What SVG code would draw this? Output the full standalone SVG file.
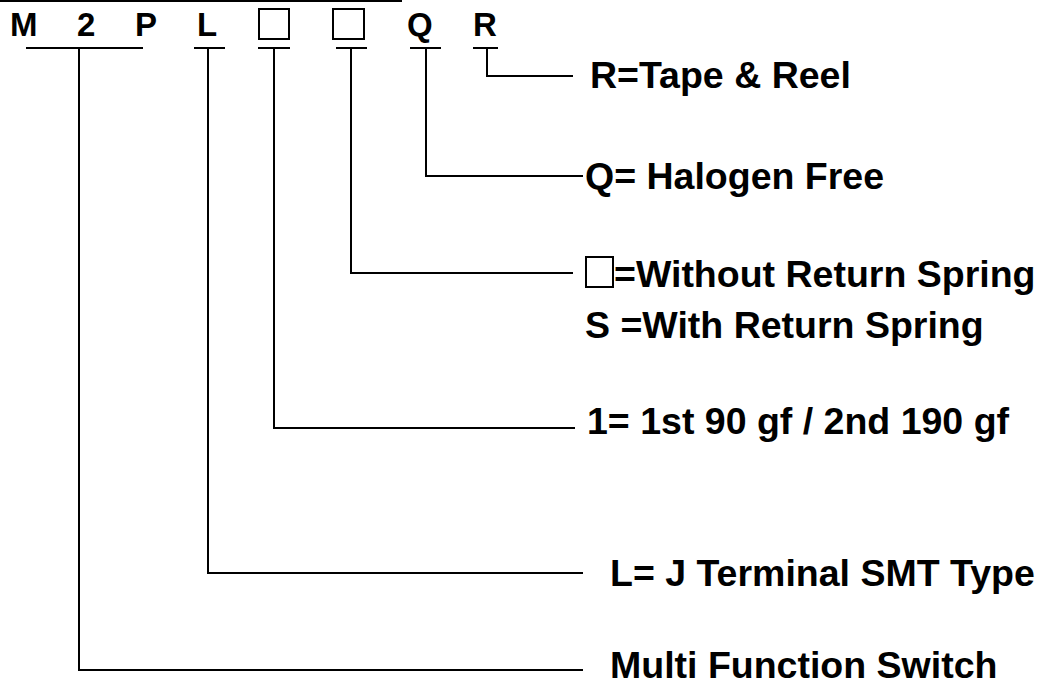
<svg xmlns="http://www.w3.org/2000/svg" width="1044" height="687" viewBox="0 0 1044 687">
<style>
.code{font-family:"Liberation Sans",Arial,sans-serif;font-weight:bold;font-size:33px;fill:#000}
.lbl{font-family:"Liberation Sans",Arial,sans-serif;font-weight:bold;font-size:37.5px;fill:#000}
.ln{stroke:#000;stroke-width:2;fill:none}
.box{stroke:#000;stroke-width:2;fill:none}
</style>
<rect width="1044" height="687" fill="#fff"/>
<g id="code">
<line class="ln" x1="0" y1="1" x2="402" y2="1"/>
<text class="code" x="10" y="36">M</text>
<text class="code" x="77" y="36">2</text>
<text class="code" x="135" y="36">P</text>
<text class="code" x="197" y="36">L</text>
<rect class="box" x="259" y="9" width="30" height="30"/>
<rect class="box" x="333" y="9" width="31" height="30"/>
<text class="code" x="407" y="36">Q</text>
<text class="code" x="473" y="36">R</text>
</g>
<g id="connectors">
<path class="ln" d="M26 48H143M79 48V670H583"/>
<path class="ln" d="M194 48H225M208 48V573H583"/>
<path class="ln" d="M258 48H290M274 48V428H575"/>
<path class="ln" d="M336 48H367M351 48V273H573"/>
<path class="ln" d="M410 48H441M426 48V176H583"/>
<path class="ln" d="M473 48H498M487 48V76H573"/>
</g>
<g id="label-r"><text class="lbl" x="590" y="88">R=Tape &amp; Reel</text></g>
<g id="label-q"><text class="lbl" x="585" y="189">Q= Halogen Free</text></g>
<g id="label-spring">
<rect class="box" x="586" y="257" width="27" height="30"/>
<text class="lbl" x="614" y="287">=Without Return Spring</text>
<text class="lbl" x="585" y="338">S =With Return Spring</text>
</g>
<g id="label-force"><text class="lbl" x="587" y="434">1= 1st 90 gf / 2nd 190 gf</text></g>
<g id="label-l"><text class="lbl" x="610" y="586">L= J Terminal SMT Type</text></g>
<g id="label-m"><text class="lbl" x="610" y="678">Multi Function Switch</text></g>
</svg>
